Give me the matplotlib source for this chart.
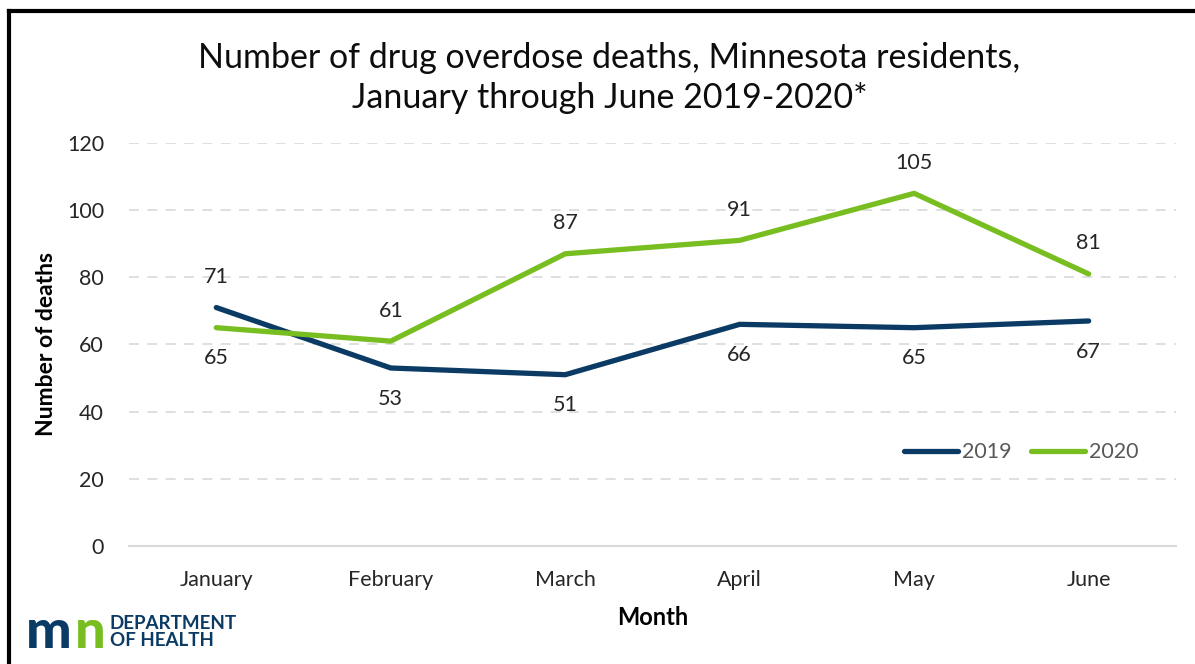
import matplotlib.pyplot as plt
from matplotlib.lines import Line2D

plt.rcParams['font.family'] = ['Lato', 'DejaVu Sans']

months = ['January', 'February', 'March', 'April', 'May', 'June']
deaths_2019 = [71, 53, 51, 66, 65, 67]
deaths_2020 = [65, 61, 87, 91, 105, 81]
# label above (+1) or below (-1) each point
pos_2019 = [1, -1, -1, -1, -1, -1]
pos_2020 = [-1, 1, 1, 1, 1, 1]

navy = '#0b3b64'
green = '#78be21'

fig = plt.figure(figsize=(11.95, 6.64), dpi=100)
ax = fig.add_axes([0.108, 0.1777, 0.876, 0.607])

x = range(len(months))
ax.plot(x, deaths_2019, color=navy, lw=3.8, solid_capstyle='round', label='2019', zorder=3)
ax.plot(x, deaths_2020, color=green, lw=3.8, solid_capstyle='round', label='2020', zorder=3)

for vals, pos in [(deaths_2019, pos_2019), (deaths_2020, pos_2020)]:
    for i, (v, p) in enumerate(zip(vals, pos)):
        ax.annotate(str(v), (i, v), xytext=(0, 22 * p), textcoords='offset points',
                    ha='center', va='center', fontsize=15.5, color='#262626')

ax.set_xlim(-0.5, 5.5)
ax.set_ylim(0, 120)
ax.set_yticks(range(0, 121, 20))
ax.set_xticks(list(x))
ax.set_xticklabels(months)
ax.tick_params(length=0, labelsize=15.5, labelcolor='#262626')
ax.tick_params(axis='y', pad=18)
ax.tick_params(axis='x', pad=17)

ax.yaxis.grid(True, color='#d9d9d9', lw=1.2, dashes=(6, 5))
ax.set_axisbelow(True)
for s in ['top', 'right', 'left']:
    ax.spines[s].set_visible(False)
ax.spines['bottom'].set_color('#d9d9d9')
ax.spines['bottom'].set_linewidth(1.5)
ax.spines['bottom'].set_zorder(1)

ax.set_xlabel('Month', fontsize=17, fontweight='bold', labelpad=12)
ax.set_ylabel('Number of deaths', fontsize=16.5, fontweight='bold', labelpad=7)

handles = [Line2D([], [], color=navy, lw=3.8, solid_capstyle='round'),
           Line2D([], [], color=green, lw=3.8, solid_capstyle='round')]
leg = ax.legend(handles, ['2019', '2020'], loc='upper right', bbox_to_anchor=(0.983, 0.305),
                ncol=2, frameon=False, fontsize=15.5, handlelength=2.5,
                handletextpad=0.2, columnspacing=0.9)
for t in leg.get_texts():
    t.set_color('#595959')

fig.text(0.51, 0.883, 'Number of drug overdose deaths, Minnesota residents,\nJanuary through June 2019-2020*',
         ha='center', va='center', fontsize=24.5, linespacing=1.3, color='#0d0d0d')

# frame lines (top and left)
fig.add_artist(Line2D([0.0078, 1.0], [0.984, 0.984], color='black', lw=3, transform=fig.transFigure))
fig.add_artist(Line2D([0.0078, 0.0078], [0.0, 0.984], color='black', lw=3, transform=fig.transFigure))

# department logo
fig.text(0.022, 0.048, 'm', fontsize=39, fontweight='black', color=navy, va='center', ha='left')
fig.text(0.063, 0.048, 'n', fontsize=39, fontweight='black', color=green, va='center', ha='left')
fig.text(0.092, 0.048, 'DEPARTMENT\nOF HEALTH', fontsize=13.5, fontweight='bold', color=navy,
         va='center', ha='left', linespacing=1.05)

fig.savefig('out.png', dpi=100)
